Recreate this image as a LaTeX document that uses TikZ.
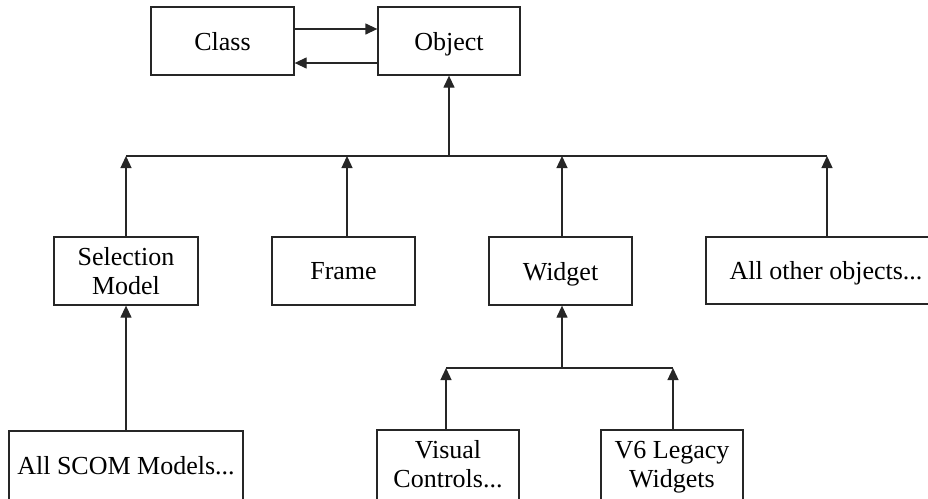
\documentclass[tikz,border=0pt]{standalone}
\usepackage{fontspec}
\setmainfont{Liberation Serif}
\usetikzlibrary{arrows.meta}
\begin{document}
\begin{tikzpicture}[x=1pt,y=1pt,
  box/.style={draw=black!85, line width=1.3pt, inner sep=0pt, minimum height=68pt,
    align=center, text depth=0pt, font=\fontsize{26}{29}\selectfont},
  cutbox/.style={box, minimum height=80pt, text depth=12pt},
  conn/.style={draw=black!85, line width=1.3pt},
  arr/.style={conn, -{Triangle[length=12pt,width=11pt]}}]
\useasboundingbox (0,0) rectangle (928,-498);
\clip (0,0) rectangle (928,-498);
% nodes
\node[box, minimum width=143pt] (class) at (222.5,-41) {Class};
\node[box, minimum width=142pt] (object) at (449,-41) {Object};
\node[box, minimum width=144pt] (sel) at (126,-271) {Selection\\Model};
\node[box, minimum width=143pt] (frame) at (343.5,-271) {Frame};
\node[box, minimum width=143pt] (widget) at (560.5,-271) {Widget};
\node[box, minimum width=240pt, minimum height=67pt] (others) at (826,-270.5) {All other objects...};
\node[cutbox, minimum width=234pt] (scom) at (126,-471) {All SCOM Models...};
\node[cutbox, minimum width=142pt] (visual) at (448,-470) {Visual\\Controls...};
\node[cutbox, minimum width=142pt] (legacy) at (672,-470) {V6 Legacy\\Widgets};
% bus coordinates
\coordinate (busL) at (126,-156);
\coordinate (busR) at (827,-156);
\coordinate (busO) at (449,-156);
\coordinate (busF) at (347,-156);
\coordinate (busW) at (562,-156);
\coordinate (subL) at (446,-368);
\coordinate (subR) at (673,-368);
\coordinate (subW) at (562,-368);
% Class <-> Object
\draw[arr] (class.east |- 0,-29) -- (object.west |- 0,-29);
\draw[arr] (object.west |- 0,-63) -- (class.east |- 0,-63);
% main bus
\draw[conn] (busL) -- (busR);
\draw[arr] (busO) -- (object.south);
\draw[arr] (sel.north) -- (busL);
\draw[arr] (frame.north -| busF) -- (busF);
\draw[arr] (widget.north -| busW) -- (busW);
\draw[arr] (others.north -| busR) -- (busR);
% selection model
\draw[arr] (scom.north) -- (sel.south);
% widget sub-bus
\draw[conn] (subL) -- (subR);
\draw[arr] (subW) -- (widget.south -| subW);
\draw[arr] (visual.north -| subL) -- (subL);
\draw[arr] (legacy.north -| subR) -- (subR);
\end{tikzpicture}
\end{document}
